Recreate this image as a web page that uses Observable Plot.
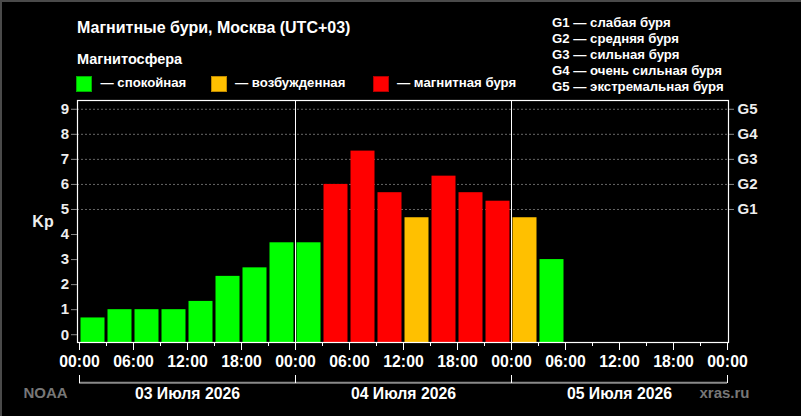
<!DOCTYPE html>
<html><head><meta charset="utf-8">
<script src="https://cdn.jsdelivr.net/npm/d3@7"></script>
<script src="https://cdn.jsdelivr.net/npm/@observablehq/plot@0.6"></script>
<style>
html,body{margin:0;padding:0;background:#000;}
#wrap{position:relative;width:801px;height:416px;background:#000;overflow:hidden;font-family:"Liberation Sans",Arial,sans-serif;font-weight:bold;color:#fff;}
#header{position:relative;height:96px;}
.abs{position:absolute;white-space:nowrap;}
.sq{position:absolute;width:14px;height:14px;border:1px solid;}
#edge{position:absolute;left:0;top:0;width:801px;height:416px;box-sizing:border-box;border-top:2px solid #4a4a4a;border-left:2px solid #4a4a4a;pointer-events:none;}
#chart svg{display:block;}
</style></head>
<body>
<div id="wrap"><div id="header"></div><div id="chart"></div><div id="edge"></div></div>
<script>
// ---- data ----
const kp = [0.67, 1, 1, 1, 1.33, 2.33, 2.67, 3.67, 3.67, 6, 7.33, 5.67, 4.67, 6.33, 5.67, 5.33, 4.67, 3];
const level = ["calm","calm","calm","calm","calm","calm","calm","calm","calm",
               "storm","storm","storm","active","storm","storm","storm","active","calm"];
const levelNames = ["calm", "active", "storm"];
const levelColors = ["#00ff00", "#ffc000", "#ff0000"];
const levelBorders = ["#00b000", "#c08a00", "#b00000"];
const legendLabels = ["— спокойная", "— возбужденная", "— магнитная буря"];
const gLegend = ["G1 — слабая буря", "G2 — средняя буря", "G3 — сильная буря", "G4 — очень сильная буря", "G5 — экстремальная буря"];
const gTicks = [5, 6, 7, 8, 9];
const gLabels = ["G1", "G2", "G3", "G4", "G5"];
const kpTicks = [0, 1, 2, 3, 4, 5, 6, 7, 8, 9];
const stepHours = 3;
const totalHours = 72;
const minorTicks = d3.range(0, totalHours + 1, 3);
const majorTicks = d3.range(0, totalHours + 1, 6);
const dayTicks = [0, 24, 48, 72];
const dayRules = [24, 48];
const days = ["03 Июля 2026", "04 Июля 2026", "05 Июля 2026"];
const dayCenters = [12, 36, 60];
const title = "Магнитные бури, Москва (UTC+03)";
const legendTitle = "Магнитосфера";
const yDomain = [-0.31, 9.35];

// ---- header (HTML) ----
const header = document.getElementById("header");
function addText(txt, left, top, size, color) {
  const d = document.createElement("div");
  d.className = "abs";
  d.textContent = txt;
  d.style.left = left + "px"; d.style.top = top + "px";
  d.style.fontSize = size + "px"; d.style.lineHeight = size + "px";
  if (color) d.style.color = color;
  header.appendChild(d);
}
addText(title, 77, 19.8, 16);
addText(legendTitle, 77, 52, 14.5);
const sqX = [76, 211, 373];
const txX = [100.5, 235, 397];
levelNames.forEach((n, i) => {
  const s = document.createElement("div");
  s.className = "sq";
  s.style.left = sqX[i] + "px"; s.style.top = "76px";
  s.style.background = levelColors[i]; s.style.borderColor = levelBorders[i];
  header.appendChild(s);
  addText(legendLabels[i], txX[i], 76, 13.2);
});
gLegend.forEach((t, i) => {
  const d = document.createElement("div");
  d.className = "abs";
  d.textContent = t;
  d.style.left = "552px"; d.style.top = (15 + i * 16) + "px";
  d.style.fontSize = "13.2px"; d.style.lineHeight = "16px";
  header.appendChild(d);
});

// ---- chart ----
const bars = kp.map((v, i) => ({x1: i * stepHours, x2: (i + 1) * stepHours, kp: v, level: level[i]}));
const hh = h => String(h % 24).padStart(2, "0") + ":00";
const font = {fontSize: 15, fontWeight: "bold"};
const fontX = {fontSize: 15.8, fontWeight: "bold"};

const chart = Plot.plot({
  width: 801,
  height: 320,
  marginTop: 4,
  marginBottom: 74,
  marginLeft: 77,
  marginRight: 73,
  style: {background: "#000", color: "#fff", fontFamily: "'Liberation Sans', Arial, sans-serif", overflow: "visible"},
  x: {domain: [0, totalHours], range: [79, 727], axis: null},
  y: {domain: yDomain, axis: null},
  color: {domain: levelNames, range: levelColors},
  marks: [
    Plot.gridY(gTicks, {stroke: "#666", strokeOpacity: 1, strokeDasharray: "2,2"}),
    Plot.rect(bars, {x1: "x1", x2: "x2", y1: yDomain[0], y2: "kp", fill: "level", insetLeft: 1.5, insetRight: 1.5}),
    Plot.ruleX(dayRules, {stroke: "#fff", strokeWidth: 1}),
    Plot.frame({stroke: "#fff", strokeWidth: 1.2}),
    Plot.axisY({anchor: "left", label: null, ticks: kpTicks, tickSize: 6, tickPadding: 2.5, stroke: "#888", fill: "#eee", ...font}),
    Plot.axisY({anchor: "right", label: null, ticks: gTicks, tickFormat: d => gLabels[gTicks.indexOf(d)], tickSize: 5, tickPadding: 4, stroke: "#888", fill: "#eee", ...font}),
    Plot.text(["Kp"], {frameAnchor: "left", dx: -34.5, textAnchor: "middle", lineAnchor: "middle", fill: "#eee", fontSize: 16, fontWeight: "bold"}),
    Plot.axisX({anchor: "bottom", label: null, ticks: minorTicks, tickSize: 4, tickFormat: () => "", stroke: "#fff"}),
    Plot.axisX({anchor: "bottom", label: null, ticks: majorTicks, tickSize: 8, tickPadding: 5, tickFormat: hh, stroke: "#fff", fill: "#fff", ...fontX}),
    Plot.ruleY([yDomain[0]], {x1: 0, x2: totalHours, dy: 40.3, stroke: "#8a8a8a", strokeWidth: 2}),
    Plot.axisX({anchor: "bottom", label: null, ticks: dayTicks, tickSize: 8, dy: 33, tickFormat: () => "", stroke: "#fff"}),
    Plot.text(days, {x: (d, i) => dayCenters[i], frameAnchor: "bottom", lineAnchor: "middle", dy: 51, fill: "#fff", ...fontX}),
    Plot.text(["NOAA"], {frameAnchor: "bottom-left", lineAnchor: "middle", dx: -32, dy: 51, textAnchor: "middle", fill: "#777", ...font}),
    Plot.text(["xras.ru"], {frameAnchor: "bottom-right", lineAnchor: "middle", dx: -4, dy: 51, textAnchor: "middle", fill: "#777", ...font})
  ]
});
document.getElementById("chart").appendChild(chart);
</script>
</body></html>
